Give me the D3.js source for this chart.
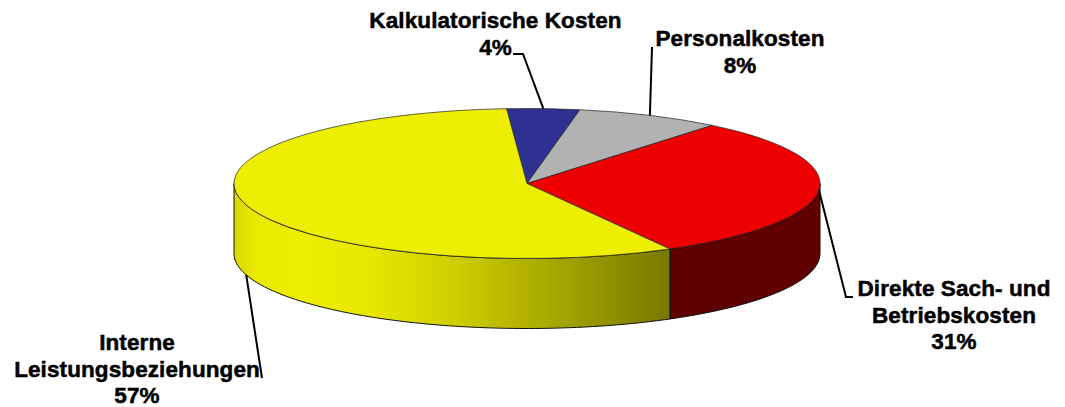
<!DOCTYPE html>
<html>
<head>
<meta charset="utf-8">
<script src="https://cdn.jsdelivr.net/npm/d3@7"></script>
<style>
  html, body { margin: 0; padding: 0; background: #fff; }
  svg { display: block; }
</style>
</head>
<body>
<div id="vis"></div>
<script>
// Kostenarten, in the order the slices run clockwise from the top
const categories = ["Kalkulatorische Kosten", "Personalkosten", "Direkte Sach- und Betriebskosten", "Interne Leistungsbeziehungen"];
const shares = [4, 8, 31, 57];
const topColors = ["#2e3192", "#b2b2b2", "#ee0000", "#eeee00"];
const sideColors = ["#17194a", "#595959", "#600000", "#eeee00"];

// label lines are wrapped by hand like in the original
const labelLines = [
  ["Kalkulatorische Kosten", "4%"],
  ["Personalkosten", "8%"],
  ["Direkte Sach- und", "Betriebskosten", "31%"],
  ["Interne", "Leistungsbeziehungen", "57%"]
];
const labelPos = [[495.5, 28], [740, 46], [954, 296], [137, 350]];
const elbows = [[[523, 54], [513, 54]], [[652, 47]], [[846, 297], [853, 297]], [[262, 378]]];

const width = 1065, height = 407;
const cx = 527, cy = 183.5, rx = 293, ry = 75, depth = 70;
const startAngle = -4 * Math.PI / 180;

const svg = d3.select("#vis").append("svg")
    .attr("width", width)
    .attr("height", height);

// shading along the yellow wall
const defs = svg.append("defs");
const grad = defs.append("linearGradient")
    .attr("id", "wall")
    .attr("gradientUnits", "userSpaceOnUse")
    .attr("x1", cx - rx).attr("x2", cx + 139)
    .attr("y1", 0).attr("y2", 0);
[[0, "#d8d800"], [0.05, "#eaea00"], [0.15, "#eeee00"], [0.3, "#e8e800"], [0.5, "#d0d000"], [0.73, "#a8a800"], [1, "#7a7a00"]]
  .forEach(s => grad.append("stop").attr("offset", s[0]).attr("stop-color", s[1]));

const slices = d3.pie().sort(null).startAngle(startAngle).endAngle(startAngle + 2 * Math.PI)(shares);

// point on the rim, angle clockwise from 12 o'clock
const px = a => cx + rx * Math.sin(a);
const py = a => cy - ry * Math.cos(a);

// outer wall of a slice, only the part facing the viewer
function wallPath(d) {
  const a0 = Math.max(d.startAngle, Math.PI / 2);
  const a1 = Math.min(d.endAngle, Math.PI * 1.5);
  if (a1 <= a0) return null;
  const top = d3.range(a0, a1, 0.02).concat([a1]);
  const pts = top.map(a => [px(a), py(a)]).concat(top.slice().reverse().map(a => [px(a), py(a) + depth]));
  return d3.line()(pts) + "Z";
}

svg.append("g")
  .selectAll("path")
  .data(slices)
  .join("path")
    .attr("d", wallPath)
    .attr("fill", d => d.index === 3 ? "url(#wall)" : sideColors[d.index])
    .attr("stroke", "#111")
    .attr("stroke-width", 1);

// top face: a normal arc squashed into an ellipse
const arc = d3.arc().innerRadius(0).outerRadius(rx);

svg.append("g")
    .attr("transform", `translate(${cx},${cy}) scale(1,${ry / rx})`)
  .selectAll("path")
  .data(slices)
  .join("path")
    .attr("d", arc)
    .attr("fill", d => topColors[d.index])
    .attr("stroke", "#222")
    .attr("stroke-width", 0.7)
    .attr("vector-effect", "non-scaling-stroke");

// leader lines start at the middle of each slice
const leader = d3.line();
svg.append("g")
  .selectAll("path")
  .data(slices)
  .join("path")
    .attr("d", d => {
      const mid = (d.startAngle + d.endAngle) / 2;
      const wall = d.index === 3 ? depth : 0;
      return leader([[px(mid), py(mid) + wall]].concat(elbows[d.index]));
    })
    .attr("fill", "none")
    .attr("stroke", "#000")
    .attr("stroke-width", 2);

svg.append("g")
    .attr("font-family", "'Liberation Sans', Arial, sans-serif")
    .attr("font-weight", "bold")
    .attr("font-size", 22.5)
    .attr("text-anchor", "middle")
    .attr("fill", "#000")
    .attr("stroke", "#000")
    .attr("stroke-width", 0.5)
    .attr("letter-spacing", 0.1)
  .selectAll("text")
  .data(labelLines)
  .join("text")
    .attr("transform", (d, i) => `translate(${labelPos[i][0]},${labelPos[i][1]})`)
  .selectAll("tspan")
  .data(d => d)
  .join("tspan")
    .attr("x", 0)
    .attr("y", (d, i) => i * 26.5)
    .text(d => d);
</script>
</body>
</html>
